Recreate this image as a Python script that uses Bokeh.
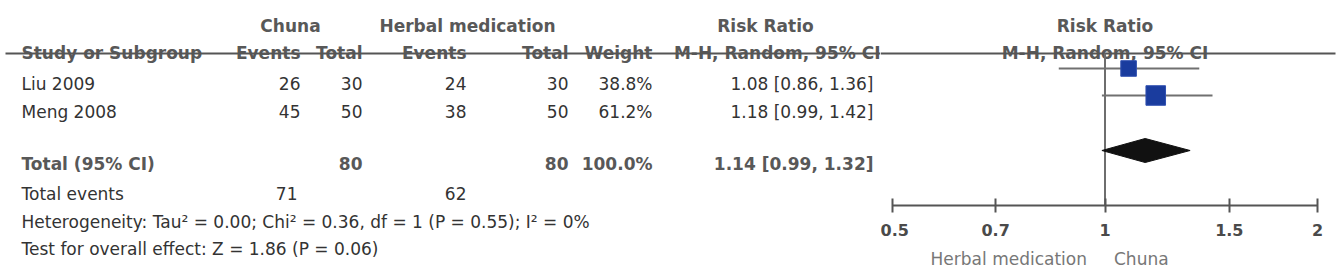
import math
from bokeh.plotting import figure
from bokeh.models import ColumnDataSource, Range1d, FixedTicker
from bokeh.layouts import row
from bokeh.embed import file_html
from bokeh.resources import INLINE
from bokeh.core.properties import value

# ---------------- data ----------------
studies = ["Liu 2009", "Meng 2008"]
chuna_events = [26, 45]
chuna_total = [30, 50]
herbal_events = [24, 38]
herbal_total = [30, 50]
weights = [38.8, 61.2]
rr = [1.08, 1.18]
rr_low = [0.86, 0.99]
rr_high = [1.36, 1.42]
pooled = [1.14]
pooled_low = [0.99]
pooled_high = [1.32]
total_chuna = 80
total_herbal = 80
total_weight = "100.0%"
events_chuna = 71
events_herbal = 62
heterogeneity = "Heterogeneity: Tau\u00b2 = 0.00; Chi\u00b2 = 0.36, df = 1 (P = 0.55); I\u00b2 = 0%"
overall = "Test for overall effect: Z = 1.86 (P = 0.06)"
group_labels = ["Chuna", "Herbal medication"]
tick_values = [0.5, 0.7, 1, 1.5, 2]
tick_labels = ["0.5", "0.7", "1", "1.5", "2"]
favours = ["Herbal medication", "Chuna"]

# ---------------- style ----------------
FONT = "DejaVu Sans"
FS = "17px"
BODY = "#333333"
HEAD = "#585858"
FONT_V = value(FONT)

# table layout (pixel positions)
Y_GROUP, Y_HDR = 25, 52
Y_ROWS = [83, 111]
Y_TOTAL, Y_EVENTS, Y_HET, Y_TEST = 163, 193, 221, 248
X_LEFT = 21
X_CEV, X_CTOT, X_HEV, X_HTOT, X_W, X_CI, X_CIH = 300, 362, 466, 568, 652, 873, 880
H = 270

t = figure(width=880, height=H, x_range=Range1d(0, 880), y_range=Range1d(H, 0),
           x_axis_location=None, y_axis_location=None, toolbar_location=None,
           output_backend="svg", min_border=0, outline_line_color=None)
t.grid.visible = False


def txt(p, xs, ys, texts, align="left", bold=False, color=BODY, size=FS, x_offset=0):
    src = ColumnDataSource(dict(x=xs, y=ys, text=[str(s) for s in texts]))
    p.text(x="x", y="y", text="text", source=src, text_align=align,
           text_baseline="alphabetic", text_font=FONT_V, text_font_size=size,
           text_font_style="bold" if bold else "normal", text_color=color,
           x_offset=x_offset)


# group headers
txt(t, [290, 467, 765], [Y_GROUP] * 3, group_labels + ["Risk Ratio"], align="center", bold=True, color=HEAD)
# column headers
txt(t, [X_LEFT], [Y_HDR], ["Study or Subgroup"], bold=True, color=HEAD)
txt(t, [X_CEV, X_CTOT, X_HEV, X_HTOT, X_W, X_CIH], [Y_HDR] * 6,
    ["Events", "Total", "Events", "Total", "Weight", "M-H, Random, 95% CI"],
    align="right", bold=True, color=HEAD)
t.segment(x0=[5], x1=[880], y0=[53], y1=[53], line_color="#555555", line_width=2)

# study rows
ci_text = ["%.2f [%.2f, %.2f]" % (a, b, c) for a, b, c in zip(rr, rr_low, rr_high)]
w_text = ["%.1f%%" % w for w in weights]
txt(t, [X_LEFT] * len(studies), Y_ROWS, studies)
for xpos, col in [(X_CEV, chuna_events), (X_CTOT, chuna_total), (X_HEV, herbal_events),
                  (X_HTOT, herbal_total), (X_W, w_text), (X_CI, ci_text)]:
    txt(t, [xpos] * len(col), Y_ROWS, col, align="right")

# total row
txt(t, [X_LEFT], [Y_TOTAL], ["Total (95% CI)"], bold=True, color=HEAD)
pooled_text = "%.2f [%.2f, %.2f]" % (pooled[0], pooled_low[0], pooled_high[0])
txt(t, [X_CTOT, X_HTOT, X_W, X_CI], [Y_TOTAL] * 4,
    [total_chuna, total_herbal, total_weight, pooled_text], align="right", bold=True, color=HEAD)
txt(t, [X_LEFT], [Y_EVENTS], ["Total events"])
txt(t, [X_CEV - 3, X_HEV], [Y_EVENTS] * 2, [events_chuna, events_herbal], align="right")
txt(t, [X_LEFT], [Y_HET], [heterogeneity])
txt(t, [X_LEFT], [Y_TEST], [overall])

# ---------------- forest plot ----------------
PX_PER_LN = 425 / math.log(4)
x_start = math.exp(math.log(0.5) - 12 / PX_PER_LN)
x_end = math.exp(math.log(2) + 24 / PX_PER_LN)
Y_AXIS = 205

f = figure(width=461, height=H, x_axis_type="log", x_range=Range1d(x_start, x_end),
           y_range=Range1d(H, 0), y_axis_location=None, toolbar_location=None,
           output_backend="svg", min_border=0, outline_line_color=None)
f.grid.visible = False

# headers
txt(f, [1.0, 1.0], [Y_GROUP, Y_HDR], ["Risk Ratio", "M-H, Random, 95% CI"],
    align="center", bold=True, color=HEAD)
f.segment(x0=[x_start], x1=[math.exp(math.log(2) + 18 / PX_PER_LN)], y0=[53], y1=[53],
          line_color="#555555", line_width=2)

# line of no effect
f.segment(x0=[1], x1=[1], y0=[53], y1=[Y_AXIS], line_color="#6e6e6e", line_width=2)

Y_FOREST = [68, 95]
Y_DIAMOND = 150
src = ColumnDataSource(dict(rr=rr, lo=rr_low, hi=rr_high, y=Y_FOREST,
                            size=[2.5 * math.sqrt(w) for w in weights]))
f.segment(x0="lo", x1="hi", y0="y", y1="y", source=src, line_color="#707070", line_width=2)
f.scatter(x="rr", y="y", size="size", marker="square", source=src,
          fill_color="#1a3c9e", line_color="#3050b0", line_width=1)

f.patch(x=[pooled_low[0], pooled[0], pooled_high[0], pooled[0]],
        y=[Y_DIAMOND, Y_DIAMOND - 12, Y_DIAMOND, Y_DIAMOND + 12],
        fill_color="#111111", line_color="#111111")

ax = f.xaxis[0]
ax.fixed_location = Y_AXIS
ax.ticker = FixedTicker(ticks=tick_values)
ax.bounds = (0.5, 2)
ax.major_label_overrides = dict(zip(tick_values, tick_labels))
ax.minor_tick_line_color = None
ax.major_tick_in = 7
ax.major_tick_out = 7
ax.major_tick_line_width = 2
ax.major_tick_line_color = "#555555"
ax.axis_line_width = 2
ax.axis_line_color = "#555555"
ax.major_label_standoff = 11
ax.major_label_text_font = FONT
ax.major_label_text_font_size = "16px"
ax.major_label_text_font_style = "bold"
ax.major_label_text_color = "#4a4a4a"

# favours labels under the axis
txt(f, [1.0], [258], [favours[0]], align="right", color="#777777", x_offset=-18)
txt(f, [1.0], [258], [favours[1]], align="left", color="#777777", x_offset=9)

layout = row(t, f)
open("out.html", "w").write(file_html(layout, INLINE))
